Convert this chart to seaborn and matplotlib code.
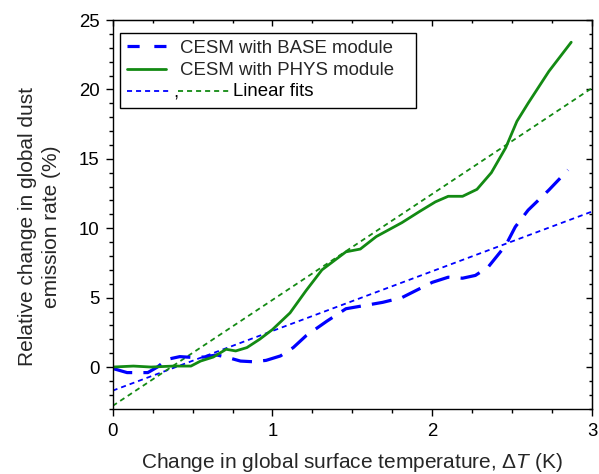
import numpy as np
import pandas as pd
import matplotlib
matplotlib.use("Agg")
import matplotlib.pyplot as plt
import seaborn as sns
from matplotlib.lines import Line2D
from matplotlib.text import Text
from matplotlib.legend_handler import HandlerBase
from matplotlib.ticker import MultipleLocator

# ---- data ----
phys_x = [0, 0.13, 0.24, 0.38, 0.49, 0.55, 0.63, 0.71, 0.77, 0.84, 0.92, 1.0, 1.11,
          1.21, 1.31, 1.46, 1.55, 1.65, 1.81, 1.92, 2.02, 2.10, 2.19, 2.28, 2.37,
          2.46, 2.53, 2.60, 2.73, 2.87]
phys_y = [0, 0.07, 0.0, 0.07, 0.07, 0.43, 0.72, 1.28, 1.16, 1.4, 2.0, 2.7, 3.9,
          5.5, 7.0, 8.3, 8.5, 9.4, 10.4, 11.2, 11.9, 12.3, 12.3, 12.8, 14.0,
          15.8, 17.7, 19.0, 21.3, 23.4]
base_x = [0, 0.09, 0.22, 0.28, 0.34, 0.42, 0.49, 0.57, 0.65, 0.71, 0.80, 0.88, 0.96,
          1.05, 1.13, 1.21, 1.34, 1.46, 1.69, 1.81, 2.0, 2.10, 2.19, 2.27, 2.35,
          2.46, 2.52, 2.60, 2.73, 2.85]
base_y = [-0.1, -0.4, -0.4, 0, 0.55, 0.75, 0.7, 0.72, 0.87, 0.72, 0.43, 0.38, 0.48,
          0.8, 1.4, 2.25, 3.3, 4.2, 4.66, 5.0, 6.1, 6.47, 6.4, 6.6, 7.2,
          8.77, 10.1, 11.3, 12.75, 14.2]
fit_x = [0, 3]
base_fit_y = [-1.7, 11.2]
phys_fit_y = [-2.8, 20.1]

labels = ["CESM with BASE module", "CESM with PHYS module", "Linear fits"]
x_ticks = [0, 1, 2, 3]
y_ticks = [0, 5, 10, 15, 20, 25]

BLUE = "#0000ff"
GREEN = "#138a13"

sns.set_style("ticks")
plt.rcParams["font.family"] = ["Liberation Sans", "DejaVu Sans"]
plt.rcParams["mathtext.fontset"] = "custom"
plt.rcParams["mathtext.rm"] = "Liberation Sans"
plt.rcParams["mathtext.it"] = "Liberation Sans:italic"
plt.rcParams["axes.edgecolor"] = "black"
plt.rcParams["xtick.color"] = "black"
plt.rcParams["ytick.color"] = "black"

FS = 13.4      # ticks and legend
LFS = 15.0     # axis labels

fig = plt.figure(figsize=(5.99, 4.74), dpi=100)
ax = fig.add_axes([0.1881, 0.1378, 0.9883 - 0.1881, 0.9578 - 0.1378])

df_base = pd.DataFrame({"x": base_x, "y": base_y})
df_phys = pd.DataFrame({"x": phys_x, "y": phys_y})
df_bfit = pd.DataFrame({"x": fit_x, "y": base_fit_y})
df_pfit = pd.DataFrame({"x": fit_x, "y": phys_fit_y})

sns.lineplot(data=df_bfit, x="x", y="y", ax=ax, color=BLUE, lw=1.3,
             linestyle=(0, (2.8, 2.2)), estimator=None)
sns.lineplot(data=df_pfit, x="x", y="y", ax=ax, color=GREEN, lw=1.3,
             linestyle=(0, (2.8, 2.2)), estimator=None)
sns.lineplot(data=df_base, x="x", y="y", ax=ax, color=BLUE, lw=2.3,
             linestyle=(0, (6.3, 3.5)), estimator=None)
sns.lineplot(data=df_phys, x="x", y="y", ax=ax, color=GREEN, lw=2.0,
             estimator=None)

ax.set_xlim(0, 3)
ax.set_ylim(-3, 25)
ax.set_xticks(x_ticks)
ax.set_yticks(y_ticks)
ax.xaxis.set_minor_locator(MultipleLocator(0.25))
ax.yaxis.set_minor_locator(MultipleLocator(1))
ax.tick_params(which="both", direction="out", labelsize=FS, width=1)
ax.tick_params(which="major", length=5)
ax.tick_params(which="minor", length=3)
ax.tick_params(axis="x", pad=5)
ax.tick_params(axis="y", pad=4.5)
for s in ax.spines.values():
    s.set_visible(True)
    s.set_linewidth(1)
    s.set_color("black")

# inward ticks on top and right
secx = ax.secondary_xaxis("top")
secx.set_xticks(x_ticks)
secx.xaxis.set_minor_locator(MultipleLocator(0.25))
secx.tick_params(which="both", direction="in", labeltop=False, width=1)
secx.tick_params(which="major", length=4)
secx.tick_params(which="minor", length=2.5)
secy = ax.secondary_yaxis("right")
secy.set_yticks(y_ticks)
secy.yaxis.set_minor_locator(MultipleLocator(1))
secy.tick_params(which="both", direction="in", labelright=False, width=1)
secy.tick_params(which="major", length=4)
secy.tick_params(which="minor", length=2.5)

ax.set_xlabel(r"Change in global surface temperature, $\Delta T$ (K)",
              fontsize=LFS)
ax.xaxis.set_label_coords(0.5, -0.108)
ax.set_ylabel("Relative change in global dust\nemission rate (%)",
              fontsize=LFS, linespacing=1.33)
ax.yaxis.set_label_coords(-0.108, 0.4675)


class FitHandler(HandlerBase):
    def create_artists(self, legend, orig_handle, xdescent, ydescent, width,
                       height, fontsize, trans):
        y = height / 2 - ydescent
        x0 = -xdescent
        w1 = width * 1.17
        l1 = Line2D([x0, x0 + w1], [y, y], color=BLUE, lw=1.3,
                    linestyle=(0, (2.8, 2.2)), transform=trans)
        c = Text(x0 + w1 + 0.5, y - fontsize * 0.32, ",", fontsize=fontsize,
                 ha="left", va="baseline", transform=trans, color="black")
        g0 = x0 + w1 + 4.0
        l2 = Line2D([g0, g0 + width * 1.3], [y, y], color=GREEN, lw=1.3,
                    linestyle=(0, (2.8, 2.2)), transform=trans)
        t = Text(g0 + width * 1.3 + 3.5, y, labels[2], fontsize=fontsize,
                 ha="left", va="center", transform=trans, color="black")
        return [l1, c, l2, t]


h_base = Line2D([], [], color=BLUE, lw=2.3, linestyle=(0, (3.8, 4.6)))
h_phys = Line2D([], [], color=GREEN, lw=2.0)
h_fit = Line2D([], [], color=BLUE)

leg = ax.legend([h_base, h_phys, h_fit], [labels[0], labels[1] + "   ", " "],
                handler_map={h_fit: FitHandler()},
                loc="upper left", bbox_to_anchor=(120 / 599, 1 - 33 / 474),
                bbox_transform=fig.transFigure, borderaxespad=0,
                fontsize=FS, frameon=True, fancybox=False, shadow=False,
                handlelength=2.1, handletextpad=0.75, labelspacing=0.3,
                borderpad=0.35)
fr = leg.get_frame()
fr.set_edgecolor("black")
fr.set_linewidth(1)
fr.set_alpha(1)

fig.savefig("out.png", dpi=100)
